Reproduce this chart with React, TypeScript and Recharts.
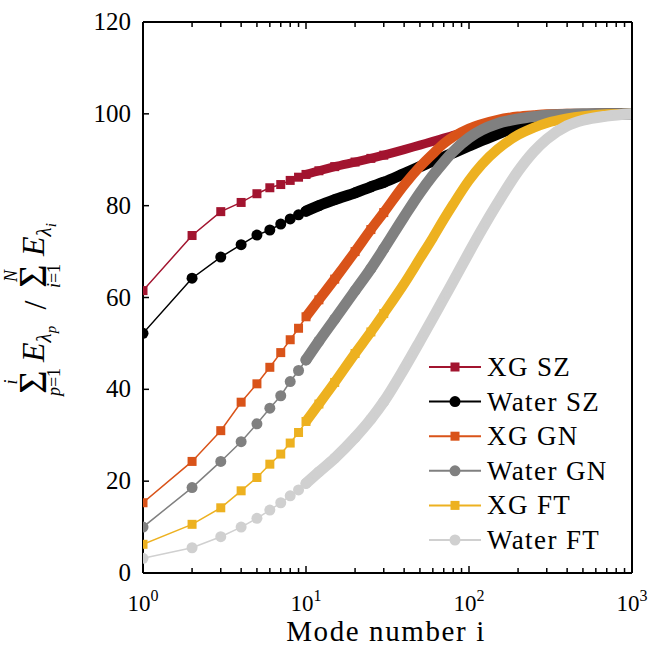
import { Line, LineChart, XAxis, YAxis } from "recharts";

const SERIF = '"Liberation Serif", "Times New Roman", serif';

const modes = [1, 2, 3, 4, 5, 6, 7, 8, 9, 10, 12, 15, 20, 25, 30, 40, 50, 60, 70, 80, 100, 120, 150, 200, 250, 300, 400, 500, 700, 1000];
const xgSz = [61.5, 73.5, 78.7, 80.7, 82.6, 83.9, 84.6, 85.5, 86.2, 86.8, 87.6, 88.5, 89.5, 90.3, 91.0, 92.2, 93.2, 94.0, 94.7, 95.3, 96.3, 97.1, 98.0, 99.0, 99.5, 99.8, 99.9, 100, 100, 100];
const waterSz = [52.2, 64.2, 68.8, 71.5, 73.6, 74.7, 76.0, 77.1, 78.0, 78.8, 80.0, 81.3, 82.8, 84.1, 85.1, 87.0, 88.5, 89.7, 90.6, 91.5, 93.0, 94.2, 95.6, 97.2, 98.2, 98.9, 99.5, 99.8, 100, 100];
const xgGn = [15.3, 24.3, 31.0, 37.2, 41.2, 44.8, 48.0, 50.8, 53.3, 55.8, 59.5, 64.0, 70.0, 74.8, 78.5, 84.5, 88.5, 91.3, 93.5, 95.0, 96.8, 97.8, 98.7, 99.4, 99.7, 99.9, 100, 100, 100, 100];
const waterGn = [10.0, 18.6, 24.3, 28.6, 32.5, 35.9, 38.6, 41.7, 44.1, 46.4, 50.5, 55.3, 61.5, 66.3, 70.6, 77.6, 82.8, 86.6, 89.5, 91.8, 94.8, 96.5, 97.9, 98.9, 99.4, 99.7, 99.9, 100, 100, 100];
const xgFt = [6.25, 10.6, 14.2, 17.9, 20.8, 23.7, 25.9, 28.3, 30.6, 33.0, 36.8, 41.5, 47.8, 52.5, 56.5, 63.0, 68.5, 73.0, 77.0, 80.3, 85.5, 89.0, 92.3, 95.4, 97.0, 98.0, 99.0, 99.5, 99.9, 100];
const waterFt = [3.2, 5.5, 7.9, 10.0, 11.9, 13.7, 15.3, 16.8, 18.1, 19.5, 22.0, 25.0, 29.5, 33.5, 37.3, 44.5, 50.5, 55.5, 59.8, 63.5, 69.8, 74.8, 80.6, 87.5, 91.8, 94.5, 97.4, 98.6, 99.5, 100];

const xTicks = [1, 2, 3, 4, 5, 6, 7, 8, 9, 10, 20, 30, 40, 50, 60, 70, 80, 90, 100, 200, 300, 400, 500, 600, 700, 800, 900, 1000];
const majorX = [1, 10, 100, 1000];
const yTicks = [0, 20, 40, 60, 80, 100, 120];

const series = [
  { key: "xgSz", name: "XG SZ", color: "#A2142F", shape: "square", values: xgSz, band: 9 },
  { key: "waterSz", name: "Water SZ", color: "#000000", shape: "circle", values: waterSz, band: 11 },
  { key: "xgGn", name: "XG GN", color: "#D95319", shape: "square", values: xgGn, band: 10 },
  { key: "waterGn", name: "Water GN", color: "#808080", shape: "circle", values: waterGn, band: 11 },
  { key: "xgFt", name: "XG FT", color: "#EDB120", shape: "square", values: xgFt, band: 10 },
  { key: "waterFt", name: "Water FT", color: "#D0D0D0", shape: "circle", values: waterFt, band: 11 }
];

const chartData = modes.map((mode, k) => {
  const row: Record<string, number | null> = { mode };
  series.forEach((s) => {
    row[s.key] = s.values[k];
    row[s.key + "Band"] = mode >= 10 ? s.values[k] : null;
  });
  return row;
});

function makeDot(shape: string, color: string) {
  return (props: any) => {
    const { cx, cy, payload, index } = props;
    if (cx == null || cy == null || payload.mode > 30) return <g key={index} />;
    if (shape === "square") {
      return <rect key={index} x={cx - 4.5} y={cy - 4.5} width={9} height={9} fill={color} />;
    }
    return <circle key={index} cx={cx} cy={cy} r={5.5} fill={color} />;
  };
}

function BottomTick({ x, y, payload }: any) {
  const v = payload.value;
  const major = majorX.includes(v);
  return (
    <g>
      <line x1={x} x2={x} y1={y} y2={y - (major ? 7 : 5)} stroke="#000" strokeWidth={1.5} />
      {major && (
        <text x={x} y={y + 38} textAnchor="middle" fontFamily={SERIF} fontSize={23} fill="#000">
          10<tspan dy={-10} fontSize={16}>{Math.round(Math.log10(v))}</tspan>
        </text>
      )}
    </g>
  );
}

function TopTick({ x, y, payload }: any) {
  const major = majorX.includes(payload.value);
  return <line x1={x} x2={x} y1={y} y2={y + (major ? 7 : 5)} stroke="#000" strokeWidth={1.5} />;
}

function LeftTick({ x, y, payload }: any) {
  return (
    <g>
      <line x1={x} x2={x + 6} y1={y} y2={y} stroke="#000" strokeWidth={1.5} />
      <text x={x - 12} y={y + 8} textAnchor="end" fontFamily={SERIF} fontSize={25} fill="#000">
        {payload.value}
      </text>
    </g>
  );
}

function RightTick({ x, y }: any) {
  return <line x1={x} x2={x - 6} y1={y} y2={y} stroke="#000" strokeWidth={1.5} />;
}

// big-operator sum with limits, in the rotated label frame
function Sum({ cx, upper, lower }: { cx: number; upper: React.ReactNode; lower: React.ReactNode }) {
  return (
    <g>
      <text x={cx} y={-14} textAnchor="middle" fontSize={18}>{upper}</text>
      <text x={cx} y={15} textAnchor="middle" fontSize={40}>Σ</text>
      <text x={cx} y={29} textAnchor="middle" fontSize={18}>{lower}</text>
    </g>
  );
}

function Energy({ x, idx }: { x: number; idx: string }) {
  return (
    <text x={x} y={13} fontSize={32} fontStyle="italic">
      E
      <tspan dy={7} fontSize={21}>λ</tspan>
      <tspan dy={5} fontSize={15}>{idx}</tspan>
    </text>
  );
}

export default function App() {
  const axisLine = { stroke: "#000", strokeWidth: 2 };
  return (
    <div style={{ position: "absolute", left: 0, top: 0, width: 654, height: 648, background: "#fff" }}>
      <LineChart width={654} height={648} data={chartData} margin={{ top: 21, right: 21, bottom: 35, left: 83 }}>
        <XAxis
          dataKey="mode"
          type="number"
          scale="log"
          domain={[1, 1000]}
          allowDataOverflow
          ticks={xTicks}
          interval={0}
          height={40}
          tickSize={0}
          tickMargin={0}
          tickLine={false}
          axisLine={axisLine}
          tick={<BottomTick />}
        />
        <XAxis
          xAxisId="top"
          orientation="top"
          dataKey="mode"
          type="number"
          scale="log"
          domain={[1, 1000]}
          allowDataOverflow
          ticks={xTicks}
          interval={0}
          height={1}
          tickSize={0}
          tickMargin={0}
          tickLine={false}
          axisLine={axisLine}
          tick={<TopTick />}
        />
        <YAxis
          type="number"
          domain={[0, 120]}
          ticks={yTicks}
          interval={0}
          width={60}
          tickSize={0}
          tickMargin={0}
          tickLine={false}
          axisLine={axisLine}
          tick={<LeftTick />}
        />
        <YAxis
          yAxisId="right"
          orientation="right"
          type="number"
          domain={[0, 120]}
          ticks={yTicks}
          interval={0}
          width={1}
          tickSize={0}
          tickMargin={0}
          tickLine={false}
          axisLine={axisLine}
          tick={<RightTick />}
        />
        {series.flatMap((s) => [
          <Line
            key={s.key + "Band"}
            dataKey={s.key + "Band"}
            type="monotone"
            stroke={s.color}
            strokeWidth={s.band}
            strokeLinecap={s.shape === "circle" ? "round" : "butt"}
            dot={false}
            activeDot={false}
            connectNulls={false}
            isAnimationActive={false}
          />,
          <Line
            key={s.key}
            dataKey={s.key}
            name={s.name}
            type="linear"
            stroke={s.color}
            strokeWidth={1.5}
            dot={makeDot(s.shape, s.color)}
            activeDot={false}
            isAnimationActive={false}
          />
        ])}
      </LineChart>

      <svg width={654} height={648} style={{ position: "absolute", left: 0, top: 0, pointerEvents: "none" }}>
        {series.map((s, k) => {
          const cy = 367 + k * 34.6;
          return (
            <g key={s.key}>
              <line x1={429} x2={481} y1={cy} y2={cy} stroke={s.color} strokeWidth={2} />
              {s.shape === "square" ? (
                <rect x={450.5} y={cy - 4.5} width={9} height={9} fill={s.color} />
              ) : (
                <circle cx={455} cy={cy} r={5.5} fill={s.color} />
              )}
              <text x={487} y={cy + 9} fontFamily={SERIF} fontSize={27} letterSpacing={1.4} fill="#000">
                {s.name}
              </text>
            </g>
          );
        })}
        <text x={386} y={641} textAnchor="middle" fontFamily={SERIF} fontSize={29} letterSpacing={1.6} fill="#000">
          Mode number i
        </text>
        <g transform="translate(31, 300) rotate(-90)" fontFamily={SERIF} fill="#000">
          <Sum cx={-82} upper={<tspan fontStyle="italic">i</tspan>} lower={<><tspan fontStyle="italic">p</tspan>=1</>} />
          <Energy x={-62} idx="p" />
          <text x={-5} y={15} textAnchor="middle" fontSize={32}>/</text>
          <Sum cx={24} upper={<tspan fontStyle="italic">N</tspan>} lower={<><tspan fontStyle="italic">i</tspan>=1</>} />
          <Energy x={44} idx="i" />
        </g>
      </svg>
    </div>
  );
}
